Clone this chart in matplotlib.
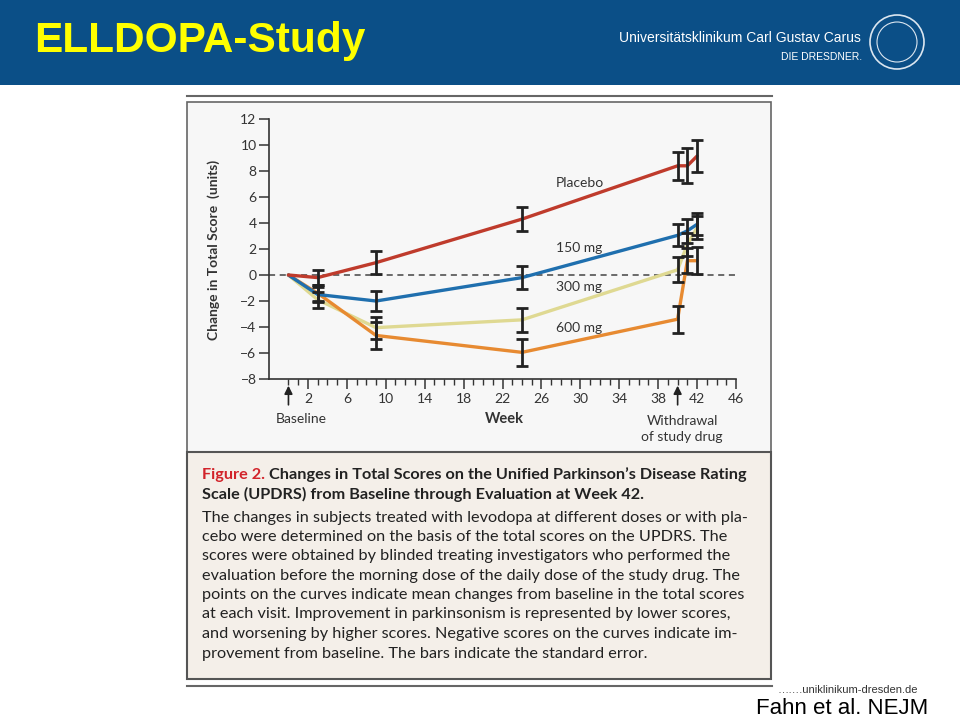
import matplotlib
matplotlib.use("Agg")
import matplotlib.pyplot as plt
from matplotlib.patches import Rectangle, Circle
from matplotlib.lines import Line2D
from matplotlib.transforms import IdentityTransform
from matplotlib import font_manager

# data
weeks = [0, 3, 9, 24, 40, 41, 42]
placebo = [0, -0.2, 0.95, 4.3, 8.4, 8.4, 9.15]
placebo_se = [0, 0.6, 0.9, 0.95, 1.1, 1.35, 1.2]
mg150 = [0, -1.5, -2.0, -0.2, 3.05, 3.4, 3.9]
mg150_se = [0, 0.6, 0.75, 0.9, 0.85, 0.9, 0.85]
mg300 = [0, -1.9, -4.05, -3.45, 0.4, 2.35, 3.65]
mg300_se = [0, 0.6, 0.85, 0.9, 0.95, 0.9, 0.9]
mg600 = [0, -1.4, -4.65, -5.95, -3.4, 1.1, 1.1]
mg600_se = [0, 0.6, 1.05, 1.05, 1.05, 0.95, 1.05]

series_names = ["Placebo", "150 mg", "300 mg", "600 mg"]
series_colors = ["#bf3b2c", "#1f6fae", "#dfd992", "#e78a31"]
label_y = [7.1, 2.1, -0.9, -4.1]

y_ticks = list(range(-8, 13, 2))
x_major = list(range(2, 47, 4))
x_minor = [w for w in range(0, 47) if w not in x_major]

caption_head = "Changes in Total Scores on the Unified Parkinson\u2019s Disease Rating"
caption_head2 = "Scale (UPDRS) from Baseline through Evaluation at Week 42."
caption_body = [
    "The changes in subjects treated with levodopa at different doses or with pla-",
    "cebo were determined on the basis of the total scores on the UPDRS. The",
    "scores were obtained by blinded treating investigators who performed the",
    "evaluation before the morning dose of the daily dose of the study drug. The",
    "points on the curves indicate mean changes from baseline in the total scores",
    "at each visit. Improvement in parkinsonism is represented by lower scores,",
    "and worsening by higher scores. Negative scores on the curves indicate im-",
    "provement from baseline. The bars indicate the standard error.",
]

W, H = 960, 720
def fx(p): return p / W
def fy(p): return 1 - p / H

available = {f.name for f in font_manager.fontManager.ttflist}
narrow = "Liberation Sans Narrow" if "Liberation Sans Narrow" in available else "Liberation Sans"
body_font = "Lato"
plt.rcParams["font.family"] = [body_font, "DejaVu Sans"]

fig = plt.figure(figsize=(9.6, 7.2), dpi=100)
fig.patch.set_facecolor("white")

# header band
fig.add_artist(Rectangle((0, fy(85)), 1, 85 / H, transform=fig.transFigure,
                         facecolor="#0b4f87", edgecolor="none", zorder=0))
fig.text(fx(34), fy(41), "ELLDOPA-Study", color="#ffff00", fontsize=30.5,
         fontweight="bold", family="Liberation Sans", va="center", ha="left")
fig.text(fx(861), fy(38), "Universitätsklinikum Carl Gustav Carus", color="white",
         fontsize=10, family=narrow, va="center", ha="right")
fig.text(fx(862), fy(57), "DIE DRESDNER.", color="white",
         fontsize=7.5, family=narrow, va="center", ha="right")
fig.add_artist(Circle((897, H - 42), 27, transform=IdentityTransform(),
                      facecolor="none", edgecolor="#dbe6f0", lw=1.2))
fig.add_artist(Circle((897, H - 42), 20, transform=IdentityTransform(),
                      facecolor="none", edgecolor="#dbe6f0", lw=0.8))

# figure panel frames
fig.add_artist(Line2D([fx(187), fx(772)], [fy(96), fy(96)], transform=fig.transFigure,
                      color="#666666", lw=1.5))
fig.add_artist(Rectangle((fx(187), fy(452)), fx(771) - fx(187), (452 - 102) / H,
                         transform=fig.transFigure, facecolor="#f7f7f7",
                         edgecolor="#666666", lw=1.2, zorder=0))
fig.add_artist(Rectangle((fx(187), fy(679)), fx(771) - fx(187), (679 - 452) / H,
                         transform=fig.transFigure, facecolor="#f4efe9",
                         edgecolor="#555555", lw=1.5, zorder=0))
fig.add_artist(Line2D([fx(187), fx(772)], [fy(686), fy(686)], transform=fig.transFigure,
                      color="#666666", lw=1.5))

# chart
ax = fig.add_axes([fx(269), fy(379), fx(736) - fx(269), (379 - 119) / H])
ax.patch.set_alpha(0)
ax.set_xlim(-2, 46)
ax.set_ylim(-8, 12)
for s in ["top", "right"]:
    ax.spines[s].set_visible(False)
for s in ["left", "bottom"]:
    ax.spines[s].set_color("#333333")
    ax.spines[s].set_linewidth(1.2)

ax.axhline(0, color="#444444", lw=1.1, ls=(0, (4, 3)), zorder=1)

all_vals = [placebo, mg150, mg300, mg600]
all_se = [placebo_se, mg150_se, mg300_se, mg600_se]
draw_order = [2, 3, 1, 0]
for i in draw_order:
    ax.plot(weeks, all_vals[i], color=series_colors[i], lw=2.4, zorder=3,
            solid_capstyle="round")
for i in draw_order:
    ax.errorbar(weeks[1:], all_vals[i][1:], yerr=all_se[i][1:], fmt="none",
                ecolor="#222222", elinewidth=2, capsize=4, capthick=2, zorder=4)

for name, yv in zip(series_names, label_y):
    ax.text(27.5, yv, name, fontsize=10, color="#333333", va="center", ha="left")

ax.set_yticks(y_ticks)
ax.tick_params(axis="y", direction="out", length=7, width=1.1, colors="#333333",
               labelsize=10, pad=2)
ax.set_xticks(x_major)
ax.set_xticks(x_minor, minor=True)
ax.tick_params(axis="x", which="major", direction="out", length=7, width=1.1,
               colors="#333333", labelsize=10, pad=3)
ax.tick_params(axis="x", which="minor", direction="out", length=4, width=1.0,
               colors="#333333")

for wk in [0, 40]:
    ax.annotate("", xy=(wk, -0.015), xycoords=("data", "axes fraction"),
                xytext=(wk, -0.11), textcoords=("data", "axes fraction"),
                arrowprops=dict(arrowstyle="-|>", color="#222222", lw=1.2,
                                mutation_scale=12))

fig.text(fx(301), fy(419), "Baseline", fontsize=10, color="#333333", ha="center", va="center")
fig.text(fx(504), fy(419), "Week", fontsize=10.5, fontweight="bold", color="#333333",
         ha="center", va="center")
fig.text(fx(682), fy(421), "Withdrawal", fontsize=10, color="#333333", ha="center", va="center")
fig.text(fx(682), fy(437), "of study drug", fontsize=10, color="#333333", ha="center", va="center")
fig.text(fx(214), fy(250), "Change in Total Score  (units)", fontsize=10, fontweight="bold",
         color="#333333", rotation=90, ha="center", va="center")

# caption
cap_fs = 11.7
renderer = fig.canvas.get_renderer()
t_fig = fig.text(fx(202), fy(475), "Figure 2.", fontsize=cap_fs, fontweight="bold",
                 color="#d2232a", ha="left", va="center")
bb = t_fig.get_window_extent(renderer)
fig.text((bb.x1 + 4) / W, fy(475), caption_head, fontsize=cap_fs, fontweight="bold",
         color="#222222", ha="left", va="center")
fig.text(fx(202), fy(494), caption_head2, fontsize=cap_fs, fontweight="bold",
         color="#222222", ha="left", va="center")
body_y = [518, 537, 556, 576, 595, 614, 634, 654]
for line, yy in zip(caption_body, body_y):
    fig.text(fx(202), fy(yy), line, fontsize=cap_fs, color="#222222", ha="left", va="center")

# footer
fig.text(fx(918), fy(690), "\u2026\u2026.uniklinikum-dresden.de", fontsize=8,
         family="Liberation Sans", color="#333333", ha="right", va="center")
fig.text(fx(928), fy(709), "Fahn et al. NEJM", fontsize=16, family="Liberation Sans",
         color="black", ha="right", va="center")

fig.savefig("out.png", dpi=100)
